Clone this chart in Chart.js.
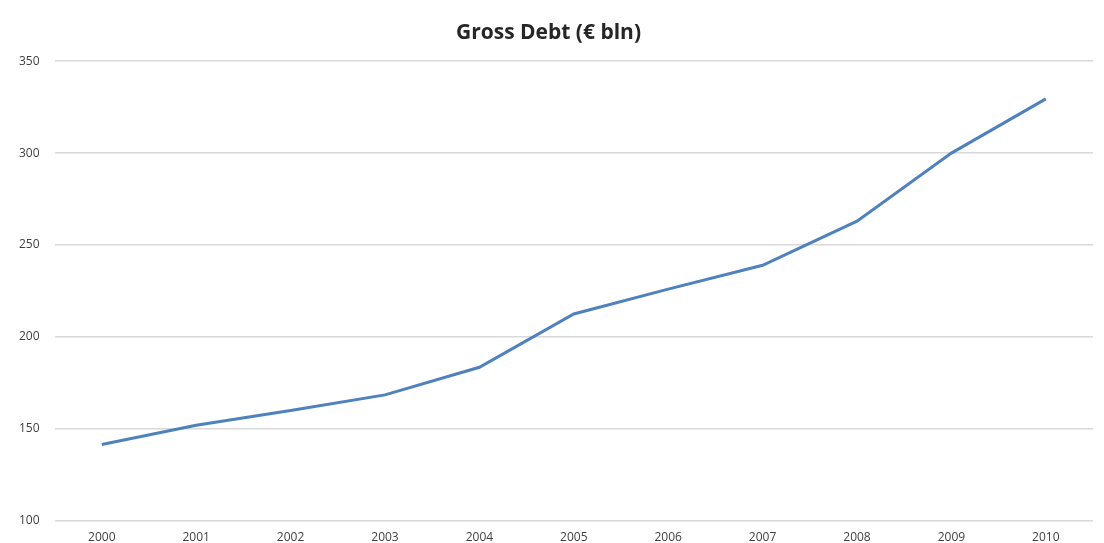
<!DOCTYPE html>
<html>
<head>
<meta charset="utf-8">
<script src="https://cdn.jsdelivr.net/npm/chart.js@4/dist/chart.umd.min.js"></script>
<style>
html,body{margin:0;padding:0;background:#fff;}
#wrap{width:1104px;height:543px;position:relative;}
</style>
</head>
<body>
<div id="wrap"><canvas id="c"></canvas></div>
<script>
const years = ["2000","2001","2002","2003","2004","2005","2006","2007","2008","2009","2010"];
const grossDebt = [141.5, 152, 160, 168.5, 183.5, 212.5, 226, 239, 263, 300, 329.5];
const yTicks = [100, 150, 200, 250, 300, 350];
const chartTitle = "Gross Debt (€ bln)";

new Chart(document.getElementById('c'), {
  type: 'line',
  data: {
    labels: years,
    datasets: [{
      label: chartTitle,
      data: grossDebt,
      borderColor: '#4f81bd',
      backgroundColor: '#4f81bd',
      borderWidth: 3,
      pointRadius: 0,
      tension: 0,
      fill: false
    }]
  },
  options: {
    responsive: true,
    maintainAspectRatio: false,
    animation: false,
    layout: { padding: { left: 4, right: 11, top: 0, bottom: -13 } },
    plugins: {
      legend: { display: false },
      tooltip: { enabled: false },
      title: {
        display: true,
        text: chartTitle,
        color: '#262626',
        font: { family: 'Open Sans', size: 21, weight: 'bold' },
        padding: { top: 20, bottom: 16 }
      }
    },
    scales: {
      x: {
        offset: true,
        grid: { display: false, drawTicks: false },
        border: { display: false },
        ticks: {
          color: '#404040',
          font: { family: 'Open Sans', size: 12 },
          padding: 10,
          maxRotation: 0
        }
      },
      y: {
        min: yTicks[0],
        max: yTicks[yTicks.length - 1],
        afterBuildTicks: (axis) => { axis.ticks = yTicks.map(v => ({ value: v })); },
        grid: { color: '#d9d9d9', lineWidth: 1.5, drawTicks: false },
        border: { display: false },
        ticks: {
          color: '#404040',
          font: { family: 'Open Sans', size: 12 },
          padding: 15
        }
      }
    }
  }
});
</script>
</body>
</html>
